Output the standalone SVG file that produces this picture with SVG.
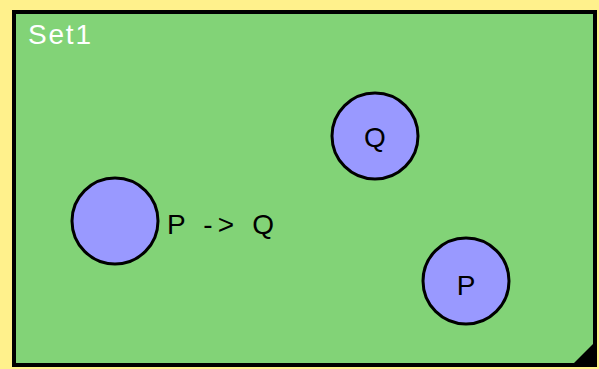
<svg xmlns="http://www.w3.org/2000/svg" width="599" height="369" viewBox="0 0 599 369">
<style>
.node{fill:#9999ff;stroke:#000;stroke-width:3}
.lbl{font-family:"Liberation Sans",Arial,sans-serif;font-size:28px;fill:#000}
</style>
<rect x="0" y="0" width="599" height="369" fill="#fff18c"/>
<g id="set1">
<rect x="14" y="12" width="581" height="353" fill="#82d377" stroke="#000" stroke-width="4"/>
<polygon points="572,365 595,342 595,365" fill="#000"/>
<text x="28" y="44" class="lbl" style="fill:#fff" textLength="63" lengthAdjust="spacing">Set1</text>
</g>
<g id="connectors"></g>
<g id="node-pq">
<circle cx="115" cy="221" r="43" class="node"/>
<text x="167" y="234" class="lbl" textLength="107" lengthAdjust="spacing">P -&gt; Q</text>
</g>
<g id="node-q">
<circle cx="375" cy="136" r="43" class="node"/>
<text x="375" y="147" class="lbl" text-anchor="middle">Q</text>
</g>
<g id="node-p">
<circle cx="466" cy="281" r="43" class="node"/>
<text x="466" y="295" class="lbl" text-anchor="middle">P</text>
</g>
</svg>
